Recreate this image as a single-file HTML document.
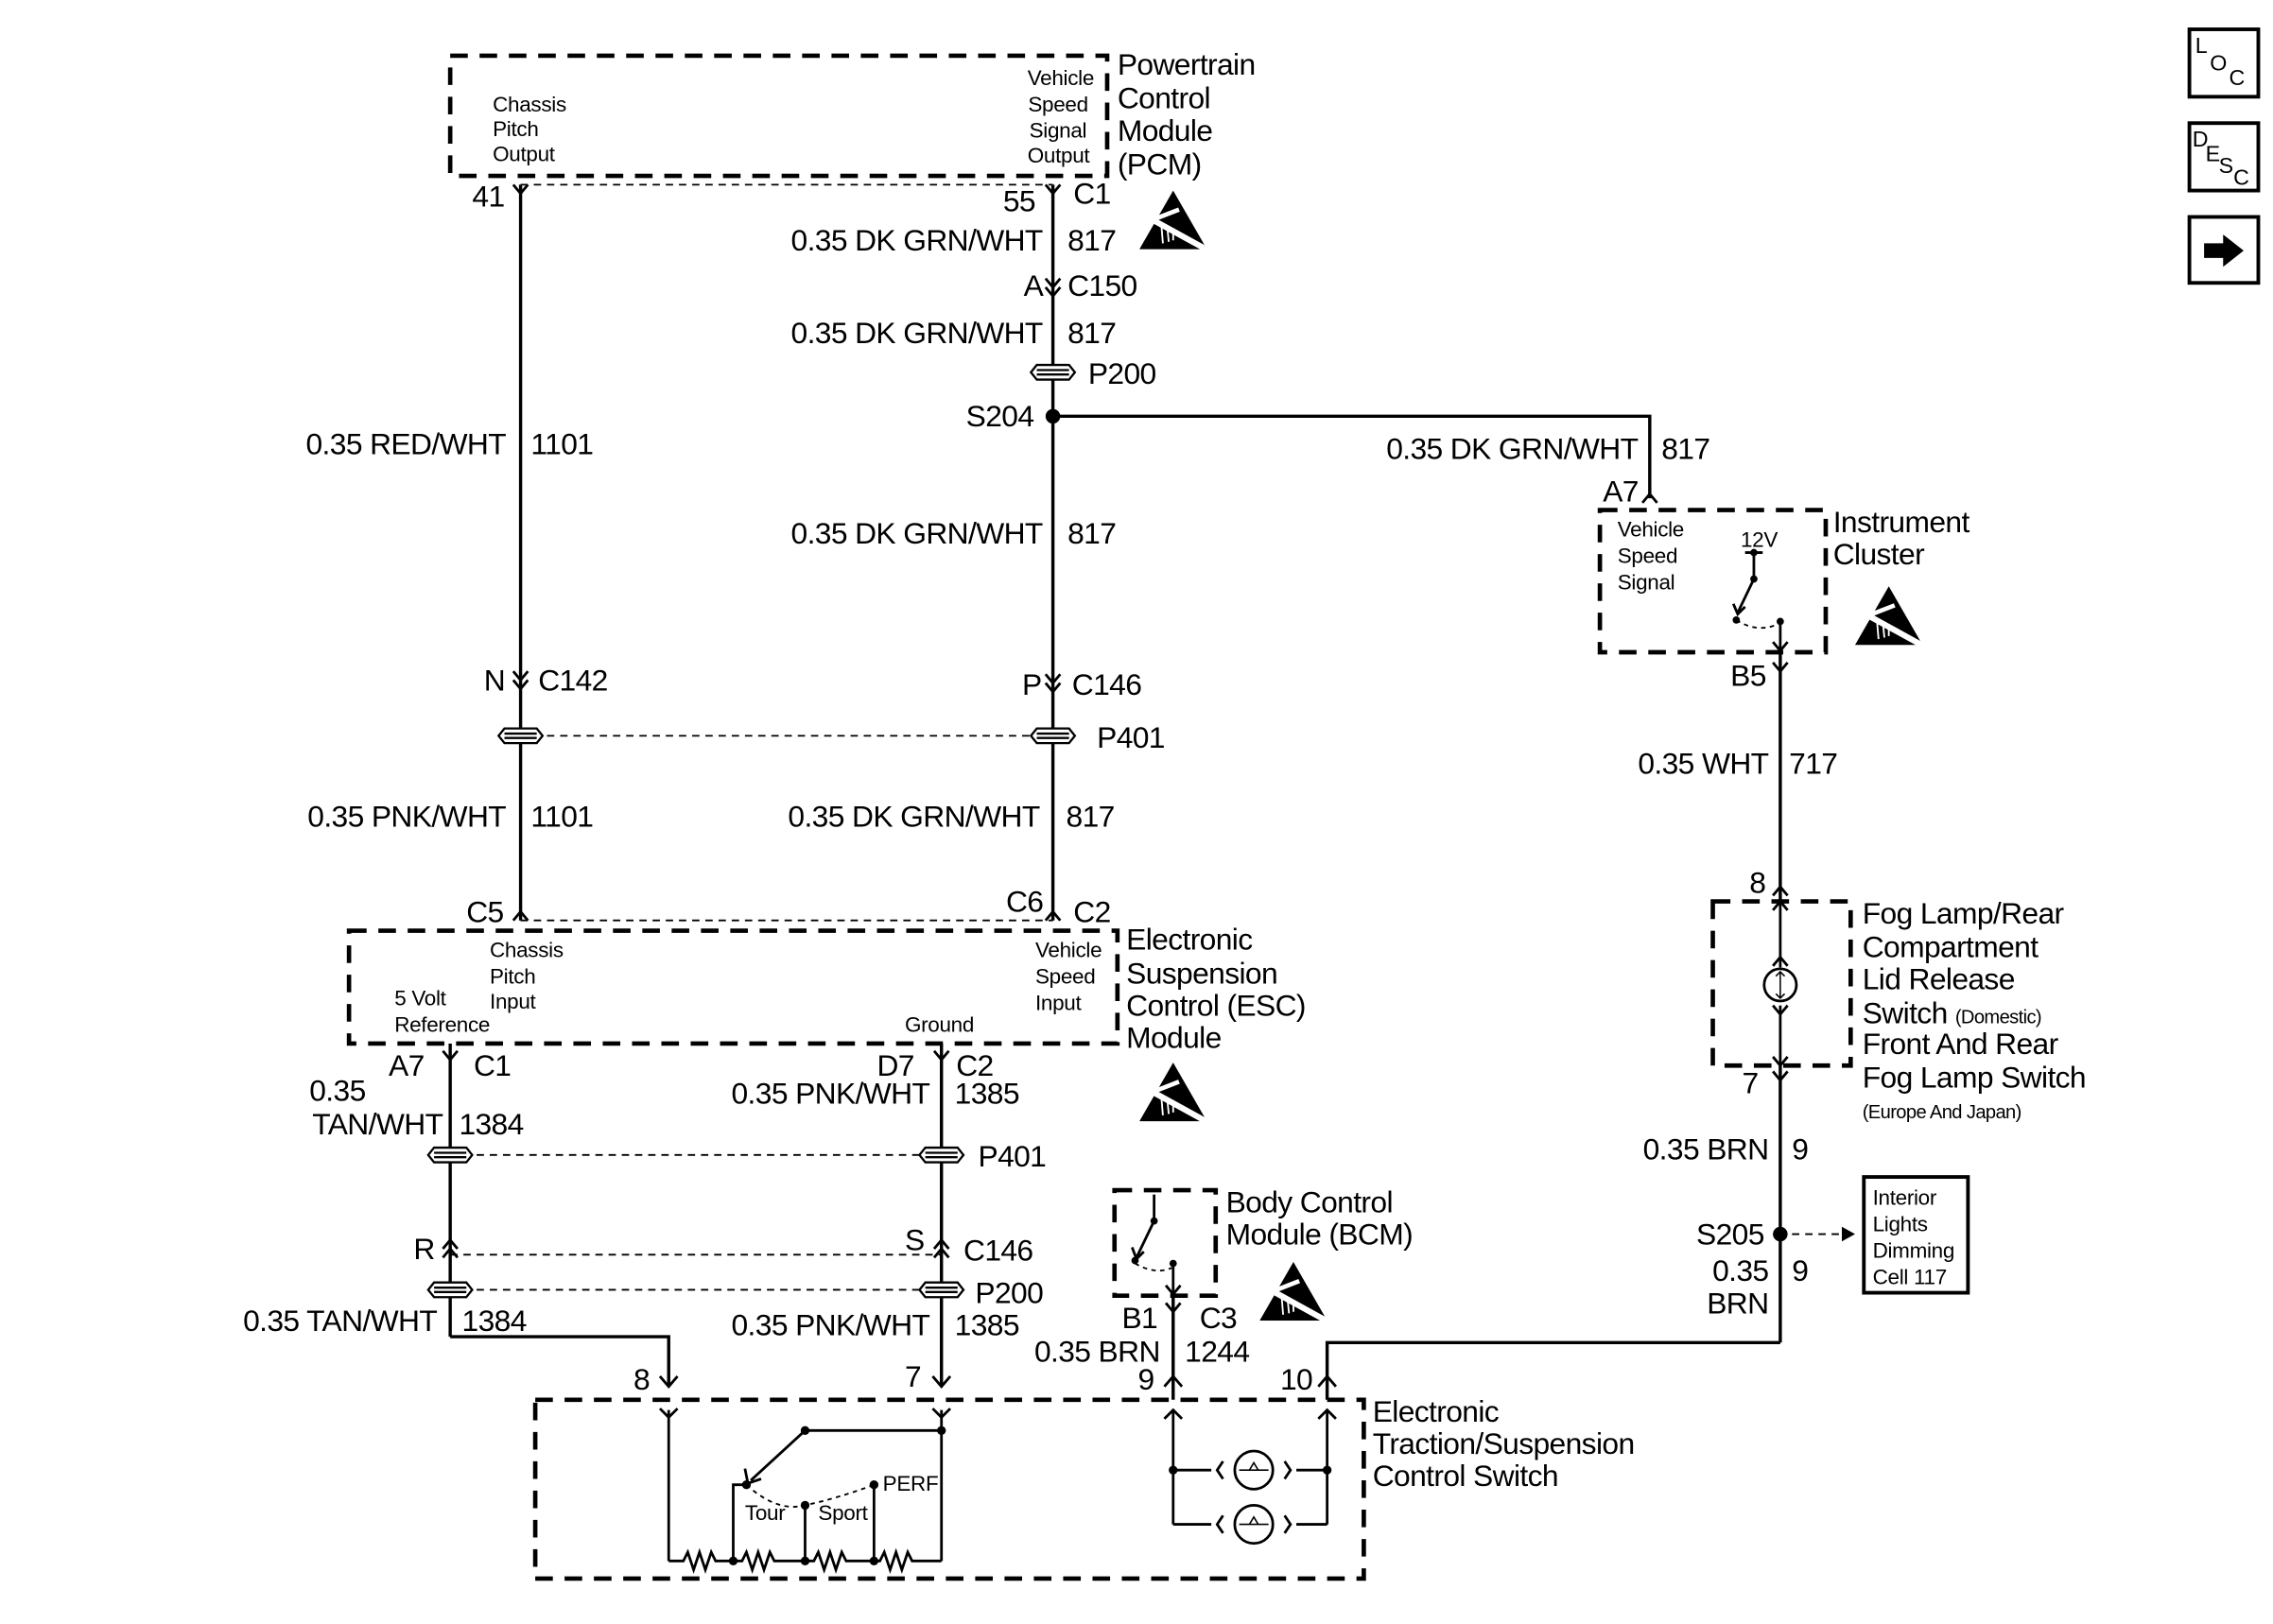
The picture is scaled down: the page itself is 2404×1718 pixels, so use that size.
<!DOCTYPE html>
<html><head><meta charset="utf-8"><style>
html,body{margin:0;padding:0;background:#fff;}
svg{display:block;}
text{font-family:"Liberation Sans",sans-serif;fill:#000;}
.L{font-size:20.5px;letter-spacing:-0.4px;}
.S{font-size:14.5px;letter-spacing:-0.2px;}
</style></head><body>
<svg width="2404" height="1718" viewBox="0 0 1550 1108" preserveAspectRatio="none" xmlns="http://www.w3.org/2000/svg">
<defs>
<g id="esd">
<polygon points="0,-22 23,18 -23,18" fill="#000"/>
<line x1="-14" y1="-2" x2="26" y2="20" stroke="#fff" stroke-width="4"/>
<line x1="-14" y1="-2" x2="4" y2="-9" stroke="#fff" stroke-width="3"/>
<path d="M-8,2 L-7,14 M-4,3 L-3,13 M0,5 L0,12" stroke="#fff" stroke-width="1.2"/>
</g>
<g id="pp">
<polygon points="-15,0 -11,-5 11,-5 15,0 11,5 -11,5" fill="#fff" stroke="#000" stroke-width="1.5"/>
<line x1="-11" y1="-1.5" x2="11" y2="-1.5" stroke="#000" stroke-width="1.5"/>
<line x1="-11" y1="1.5" x2="11" y2="1.5" stroke="#000" stroke-width="1.5"/>
</g>
</defs>
<g fill="none" stroke="#000">
<g stroke-width="3" stroke-dasharray="12,8">
<rect x="307" y="38" width="448" height="82"/>
<rect x="238" y="635" width="524" height="77"/>
<rect x="1091" y="348" width="154" height="97"/>
<rect x="1168" y="615" width="94" height="112"/>
<rect x="760" y="812" width="69" height="72"/>
<rect x="365" y="955" width="565" height="122"/>
</g>
<g stroke-width="1.2" stroke-dasharray="5,4">
<line x1="355" y1="126" x2="718" y2="126"/>
<line x1="355" y1="502" x2="718" y2="502"/>
<line x1="355" y1="628" x2="718" y2="628"/>
<line x1="307" y1="788" x2="642" y2="788"/>
<line x1="307" y1="856" x2="642" y2="856"/>
<line x1="307" y1="880" x2="642" y2="880"/>
<line x1="1222" y1="842" x2="1255" y2="842"/>
</g>
<g stroke-width="2.2">
<line x1="355" y1="126" x2="355" y2="628"/>
<line x1="718" y1="126" x2="718" y2="628"/>
<polyline points="718,284 1125,284 1125,340"/>
<line x1="1214" y1="445" x2="1214" y2="615"/>
<line x1="1214" y1="727" x2="1214" y2="916"/>
<polyline points="1214,916 905,916 905,955"/>
<line x1="307" y1="712" x2="307" y2="912"/>
<polyline points="307,912 456,912 456,945"/>
<line x1="642" y1="712" x2="642" y2="945"/>
<line x1="800" y1="884" x2="800" y2="955"/>
</g>
<g stroke-width="1.8">
<path d="M350,126 L355,132 L360,126 M713,126 L718,132 L723,126"/>
<path d="M713,190 L718,196 L723,190 M713,196 L718,202 L723,196"/>
<path d="M350,458 L355,464 L360,458 M350,464 L355,470 L360,464"/>
<path d="M713,460 L718,466 L723,460 M713,466 L718,472 L723,466"/>
<path d="M350,628 L355,622 L360,628 M713,628 L718,622 L723,628"/>
<path d="M1120,343 L1125,337 L1130,343"/>
<path d="M1209,452 L1214,458 L1219,452"/>
<path d="M1209,611 L1214,605 L1219,611"/>
<path d="M1209,731 L1214,737 L1219,731"/>
<path d="M302,717 L307,723 L312,717 M637,717 L642,723 L647,717"/>
<path d="M302,852 L307,846 L312,852 M302,858 L307,852 L312,858"/>
<path d="M637,852 L642,846 L647,852 M637,858 L642,852 L647,858"/>
<path d="M450,939 L456,946 L462,939 M636,939 L642,946 L648,939"/>
<path d="M795,889 L800,895 L805,889"/>
<path d="M794,946 L800,939 L806,946 M899,946 L905,939 L911,946"/>
<path d="M450,961 L456,967 L462,961 M636,961 L642,967 L648,961"/>
</g>
<polygon points="1256,837 1265,842 1256,847" fill="#000" stroke="none"/>
<rect x="1271" y="803" width="71" height="79" stroke-width="2.5"/>
<g stroke-width="1.8">
<line x1="1190" y1="377" x2="1202" y2="377"/>
<line x1="1196" y1="377" x2="1196" y2="395"/>
<line x1="1196" y1="395" x2="1185" y2="418"/>
<path d="M1182,412 L1185,419 L1190,414"/>
<path d="M1184,423 Q1198,432 1212,426" stroke-dasharray="3,3" stroke-width="1.2"/>
<line x1="1214" y1="424" x2="1214" y2="444"/>
<path d="M1209,438 L1214,444 L1219,438"/>
</g>
<g fill="#000" stroke="none"><circle cx="1196" cy="377" r="2.5"/><circle cx="1196" cy="395" r="2.5"/><circle cx="1184" cy="423" r="2.5"/><circle cx="1214" cy="424" r="2.5"/></g>
<g stroke-width="1.8">
<line x1="1214" y1="615" x2="1214" y2="660"/>
<path d="M1209,621 L1214,615 L1219,621 M1209,659 L1214,653 L1219,659"/>
<circle cx="1214" cy="672" r="11"/>
<path d="M1214,663 L1214,681 M1211,666 L1214,663 L1217,666 M1211,678 L1214,681 L1217,678" stroke-width="1"/>
<line x1="1214" y1="686" x2="1214" y2="727"/>
<path d="M1209,686 L1214,692 L1219,686 M1209,721 L1214,727 L1219,721"/>
</g>
<g stroke-width="1.8">
<line x1="787" y1="815" x2="787" y2="833"/>
<line x1="787" y1="833" x2="775" y2="858"/>
<path d="M772,851 L775,859 L780,854"/>
<path d="M774,862 Q788,870 799,865" stroke-dasharray="3,3" stroke-width="1.2"/>
<line x1="800" y1="862" x2="800" y2="883"/>
<path d="M795,877 L800,883 L805,877"/>
</g>
<g fill="#000" stroke="none"><circle cx="787" cy="833" r="2.5"/><circle cx="774" cy="860" r="2.5"/><circle cx="800" cy="862" r="2.5"/></g>
<g stroke-width="1.8">
<line x1="456" y1="962" x2="456" y2="1065"/>
<line x1="642" y1="962" x2="642" y2="1065"/>
<line x1="549" y1="976" x2="642" y2="976"/>
<line x1="549" y1="976" x2="512" y2="1010"/>
<path d="M508,1002 L510,1012 L519,1009"/>
<polyline points="500,1065 500,1013 508,1013"/>
<line x1="549" y1="1027" x2="549" y2="1065"/>
<polyline points="596,1013 596,1065"/>
<path d="M509,1013 Q530,1032 549,1027 Q572,1022 596,1013" stroke-dasharray="3,3" stroke-width="1.2"/>
<polyline points="456,1065 466,1065 469,1059 473,1071 477,1059 481,1071 485,1059 488,1065 500,1065 506,1065 509,1059 513,1071 517,1059 521,1071 525,1059 528,1065 549,1065 555,1065 558,1059 562,1071 566,1059 570,1071 574,1059 577,1065 596,1065 600,1065 603,1059 607,1071 611,1059 615,1071 619,1059 622,1065 642,1065"/>
</g>
<g fill="#000" stroke="none"><circle cx="549" cy="976" r="3"/><circle cx="642" cy="976" r="3"/><circle cx="509" cy="1013" r="3"/><circle cx="549" cy="1027" r="3"/><circle cx="596" cy="1013" r="3"/><circle cx="500" cy="1065" r="3"/><circle cx="549" cy="1065" r="3"/><circle cx="596" cy="1065" r="3"/></g>
<g stroke-width="1.8">
<line x1="800" y1="962" x2="800" y2="1040"/>
<line x1="905" y1="962" x2="905" y2="1040"/>
<path d="M794,968 L800,962 L806,968 M899,968 L905,962 L911,968"/>
<line x1="800" y1="1003" x2="826" y2="1003"/><path d="M834,997 L830,1003 L834,1009"/>
<circle cx="855" cy="1003" r="13"/><path d="M876,997 L880,1003 L876,1009"/><line x1="884" y1="1003" x2="905" y2="1003"/>
<line x1="800" y1="1040" x2="826" y2="1040"/><path d="M834,1034 L830,1040 L834,1046"/>
<circle cx="855" cy="1040" r="13"/><path d="M876,1034 L880,1040 L876,1046"/><line x1="884" y1="1040" x2="905" y2="1040"/>
<path d="M845,1003 L865,1003 M845,1040 L865,1040 M852,1003 L855,998 L858,1003 M852,1040 L855,1035 L858,1040" stroke-width="1"/>
</g>
<g fill="#000" stroke="none"><circle cx="800" cy="1003" r="3"/><circle cx="905" cy="1003" r="3"/></g>
<g fill="#000" stroke="none"><circle cx="718" cy="284" r="5"/><circle cx="1214" cy="842" r="5"/></g>
<g stroke-width="2.5">
<rect x="1493" y="20" width="47" height="46"/>
<rect x="1493" y="84" width="47" height="46"/>
<rect x="1493" y="148" width="47" height="45"/>
</g>
<polygon points="1503,166 1516,166 1516,160 1530,171 1516,182 1516,176 1503,176" fill="#000" stroke="none"/>
</g>
<use href="#pp" x="718" y="254"/>
<use href="#pp" x="355" y="502"/>
<use href="#pp" x="718" y="502"/>
<use href="#pp" x="307" y="788"/>
<use href="#pp" x="642" y="788"/>
<use href="#pp" x="307" y="880"/>
<use href="#pp" x="642" y="880"/>
<use href="#esd" x="800" y="152"/>
<use href="#esd" x="1288" y="422"/>
<use href="#esd" x="800" y="747"/>
<use href="#esd" x="882" y="883"/>

<g class="S">
<text x="336" y="76">Chassis</text><text x="336" y="93">Pitch</text><text x="336" y="110">Output</text>
<text x="746" y="58" text-anchor="end">Vehicle</text><text x="742" y="76" text-anchor="end">Speed</text><text x="741" y="94" text-anchor="end">Signal</text><text x="743" y="111" text-anchor="end">Output</text>
<text x="1103" y="366">Vehicle</text><text x="1103" y="384">Speed</text><text x="1103" y="402">Signal</text>
<text x="1187" y="373">12V</text>
<text x="334" y="653">Chassis</text><text x="334" y="671">Pitch</text><text x="334" y="688">Input</text>
<text x="706" y="653">Vehicle</text><text x="706" y="671">Speed</text><text x="706" y="689">Input</text>
<text x="269" y="686">5 Volt</text><text x="269" y="704">Reference</text>
<text x="617" y="704">Ground</text>
<text x="1277" y="822">Interior</text><text x="1277" y="840">Lights</text><text x="1277" y="858">Dimming</text><text x="1277" y="876">Cell 117</text>
<text x="508" y="1037">Tour</text><text x="558" y="1037">Sport</text><text x="602" y="1017">PERF</text>
</g>
<g class="L">
<text x="762" y="51">Powertrain</text><text x="762" y="74">Control</text><text x="762" y="96">Module</text><text x="762" y="119">(PCM)</text>
<text x="322" y="141">41</text><text x="684" y="144">55</text><text x="732" y="139">C1</text>
<text x="711" y="171" text-anchor="end">0.35 DK GRN/WHT</text><text x="728" y="171">817</text>
<text x="698" y="202">A</text><text x="728" y="202">C150</text>
<text x="711" y="234" text-anchor="end">0.35 DK GRN/WHT</text><text x="728" y="234">817</text>
<text x="742" y="262">P200</text>
<text x="705" y="291" text-anchor="end">S204</text>
<text x="345" y="310" text-anchor="end">0.35 RED/WHT</text><text x="362" y="310">1101</text>
<text x="1117" y="313" text-anchor="end">0.35 DK GRN/WHT</text><text x="1133" y="313">817</text>
<text x="1093" y="342">A7</text>
<text x="1250" y="363">Instrument</text><text x="1250" y="385">Cluster</text>
<text x="711" y="371" text-anchor="end">0.35 DK GRN/WHT</text><text x="728" y="371">817</text>
<text x="330" y="471">N</text><text x="367" y="471">C142</text>
<text x="697" y="474">P</text><text x="731" y="474">C146</text>
<text x="1180" y="468">B5</text>
<text x="748" y="510">P401</text>
<text x="1206" y="528" text-anchor="end">0.35 WHT</text><text x="1220" y="528">717</text>
<text x="345" y="564" text-anchor="end">0.35 PNK/WHT</text><text x="362" y="564">1101</text>
<text x="709" y="564" text-anchor="end">0.35 DK GRN/WHT</text><text x="727" y="564">817</text>
<text x="1193" y="609">8</text>
<text x="1270" y="630">Fog Lamp/Rear</text><text x="1270" y="653">Compartment</text><text x="1270" y="675">Lid Release</text>
<text x="1270" y="698">Switch <tspan style="font-size:13px">(Domestic)</tspan></text>
<text x="1270" y="719">Front And Rear</text><text x="1270" y="742">Fog Lamp Switch</text>
<text x="1270" y="763" style="font-size:13px">(Europe And Japan)</text>
<text x="318" y="629">C5</text><text x="686" y="622">C6</text><text x="732" y="629">C2</text>
<text x="768" y="648">Electronic</text><text x="768" y="671">Suspension</text><text x="768" y="693">Control (ESC)</text><text x="768" y="715">Module</text>
<text x="265" y="734">A7</text><text x="323" y="734">C1</text><text x="598" y="734">D7</text><text x="652" y="734">C2</text>
<text x="1188" y="746">7</text>
<text x="211" y="751">0.35</text>
<text x="634" y="753" text-anchor="end">0.35 PNK/WHT</text><text x="651" y="753">1385</text>
<text x="302" y="774" text-anchor="end">TAN/WHT</text><text x="313" y="774">1384</text>
<text x="1206" y="791" text-anchor="end">0.35 BRN</text><text x="1222" y="791">9</text>
<text x="667" y="796">P401</text>
<text x="836" y="827">Body Control</text><text x="836" y="849">Module (BCM)</text>
<text x="1203" y="849" text-anchor="end">S205</text>
<text x="282" y="859">R</text><text x="617" y="853">S</text><text x="657" y="860">C146</text>
<text x="1206" y="874" text-anchor="end">0.35</text><text x="1222" y="874">9</text>
<text x="1206" y="896" text-anchor="end">BRN</text>
<text x="665" y="889">P200</text>
<text x="765" y="906">B1</text><text x="818" y="906">C3</text>
<text x="298" y="908" text-anchor="end">0.35 TAN/WHT</text><text x="315" y="908">1384</text>
<text x="634" y="911" text-anchor="end">0.35 PNK/WHT</text><text x="651" y="911">1385</text>
<text x="791" y="929" text-anchor="end">0.35 BRN</text><text x="808" y="929">1244</text>
<text x="432" y="948">8</text><text x="617" y="946">7</text><text x="776" y="948">9</text><text x="873" y="948">10</text>
<text x="936" y="970">Electronic</text><text x="936" y="992">Traction/Suspension</text><text x="936" y="1014">Control Switch</text>
</g>
<g style="font-size:15px">
<text x="1497" y="36">L</text><text x="1507" y="48">O</text><text x="1520" y="58">C</text>
<text x="1495" y="100">D</text><text x="1504" y="110">E</text><text x="1513" y="118">S</text><text x="1523" y="126">C</text>
</g>
</svg>
</body></html>
